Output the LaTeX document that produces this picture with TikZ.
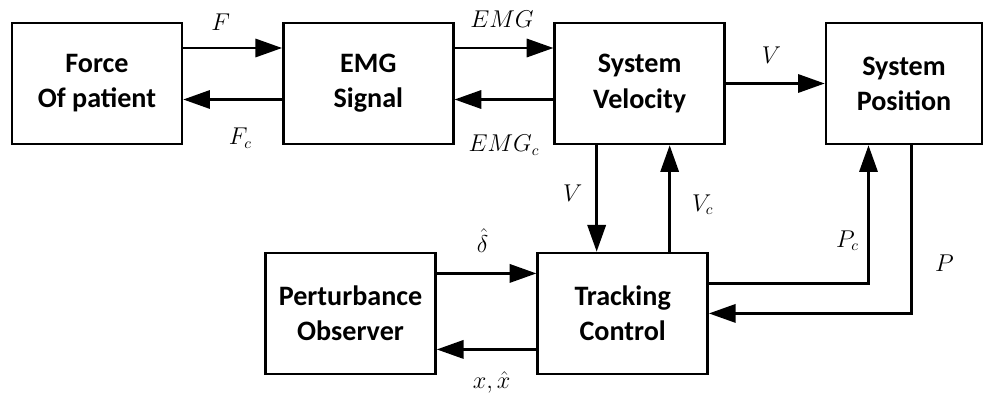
\documentclass[tikz,border=0pt]{standalone}
\usepackage{amsmath}
\usepackage{fontspec}
\setmainfont{Carlito}
\usetikzlibrary{positioning, calc}
\usetikzlibrary{arrows.meta}
\tikzstyle{blockbox}=[rectangle, draw=black, line width=1.8pt, minimum width=4.25cm, minimum height=3.025cm, align=center, font=\bfseries\fontsize{20}{25}\selectfont]
\tikzstyle{signalpath}=[-{Triangle[length=19pt,width=13pt]}, line width=1.8pt]
\tikzstyle{signal}=[font=\fontsize{16}{19}\selectfont]

\begin{document}
\begin{tikzpicture}
    \useasboundingbox (0,0) rectangle (24.65,-9.875);

    \node[blockbox] (force) at (2.425,-2.0875) {Force\\Of patient};
    \node[blockbox, right=2.47cm of force] (emg) {EMG\\Signal};
    \node[blockbox, right=2.47cm of emg] (vel) {System\\Velocity};
    \node[blockbox, right=2.47cm of vel, minimum width=3.9cm] (pos) {System\\Position};

    \node[blockbox, below=2.66cm of vel, xshift=-0.425cm] (track) {Tracking\\Control};
    \node[blockbox, left=2.49cm of track] (perturb) {Perturbance\\Observer};

    % top row
    \draw[signalpath] ([yshift=0.8875cm]force.east) -- ([yshift=0.8875cm]emg.west)
        node[signal, midway, xshift=-0.3cm, yshift=0.65cm] {$F$};
    \draw[signalpath] ([yshift=-0.4cm]emg.west) -- ([yshift=-0.4cm]force.east)
        node[signal, midway, xshift=0.19cm, yshift=-0.96cm] {$F_c$};
    \draw[signalpath] ([yshift=0.8875cm]emg.east) -- ([yshift=0.8875cm]vel.west)
        node[signal, midway, xshift=-0.05cm, yshift=0.725cm] {$EMG$};
    \draw[signalpath] ([yshift=-0.4cm]vel.west) -- ([yshift=-0.4cm]emg.east)
        node[signal, midway, yshift=-1.15cm] {$EMG_c$};
    \draw[signalpath] (vel.east) -- (pos.west)
        node[signal, midway, xshift=-0.1cm, yshift=0.7cm] {$V$};

    % velocity loop
    \draw[signalpath] ([xshift=-1.075cm]vel.south) -- ([xshift=-1.075cm]vel.south |- track.north)
        node[signal, midway, xshift=-0.6cm, yshift=0.14cm] {$V$};
    \draw[signalpath] ([xshift=0.75cm]vel.south |- track.north) -- ([xshift=0.75cm]vel.south)
        node[signal, midway, xshift=0.825cm, yshift=-0.16cm] {$V_c$};

    % position loop
    \draw[signalpath] ([yshift=0.75cm]track.east) -| ([xshift=-0.8875cm]pos.south)
        node[signal, pos=0.655, xshift=-0.525cm] {$P_c$};
    \draw[signalpath] ([xshift=0.1875cm]pos.south) |- (track.east)
        node[signal, pos=0.352, xshift=0.825cm] {$P$};

    % observer
    \draw[signalpath] ([yshift=1cm]perturb.east) -- ([yshift=1cm]track.west)
        node[signal, midway, xshift=-0.1cm, yshift=0.825cm] {$\hat{\delta}$};
    \draw[signalpath] ([yshift=-0.9cm]track.west) -- ([yshift=-0.9cm]perturb.east)
        node[signal, midway, xshift=0.125cm, yshift=-0.825cm] {$x,\hat{x}$};
\end{tikzpicture}
\end{document}
